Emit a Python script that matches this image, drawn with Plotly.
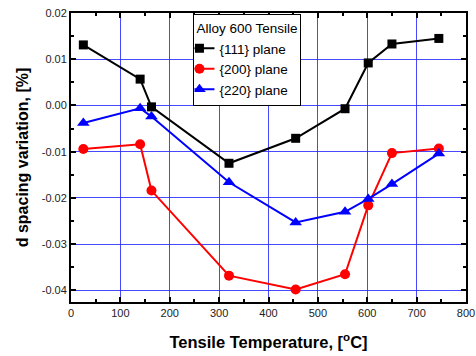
import plotly.graph_objects as go

temps = [25, 140, 163, 320, 455, 555, 602, 650, 745]
plane_111 = [0.0131, 0.0057, -0.0003, -0.0125, -0.0071, -0.0007, 0.0092, 0.0133, 0.0145]
plane_200 = [-0.0094, -0.0084, -0.0184, -0.0368, -0.0398, -0.0365, -0.0216, -0.0103, -0.0093]
plane_220 = [-0.0038, -0.0006, -0.0024, -0.0166, -0.0253, -0.0230, -0.0202, -0.0170, -0.0104]

x_ticks = [0, 100, 200, 300, 400, 500, 600, 700, 800]
y_ticks = [0.02, 0.01, 0.0, -0.01, -0.02, -0.03, -0.04]
y_ticktext = ["0.02", "0.01", "0.00", "-0.01", "-0.02", "-0.03", "-0.04"]

series = [
    ("{111} plane", plane_111, "black", "square", 9),
    ("{200} plane", plane_200, "red", "circle", 10),
    ("{220} plane", plane_220, "blue", "triangle-up", 11),
]

FONT = "Arial, Liberation Sans, sans-serif"

fig = go.Figure()
for name, vals, color, sym, sz in series:
    fig.add_trace(go.Scatter(
        x=temps, y=vals, name=name, mode="lines+markers",
        line=dict(color=color, width=2),
        marker=dict(symbol=sym, size=sz, color=color),
    ))

axis_common = dict(
    showline=True, linecolor="black", linewidth=2, mirror="ticks",
    ticks="inside", ticklen=5, tickwidth=2, tickcolor="black",
    showgrid=True, gridcolor="rgba(40,40,255,0.85)", gridwidth=1,
    zeroline=False, automargin=False,
    tickfont=dict(family=FONT, size=11, color="#222"),
)

fig.update_xaxes(
    range=[0, 800], tickvals=x_ticks,
    minor=dict(ticks="inside", ticklen=3, tickwidth=2, tickcolor="black", dtick=50, showgrid=False),
    title=dict(text="<b>Tensile Temperature, [<sup>o</sup>C]</b>",
               font=dict(family=FONT, size=16.5, color="black"),
               standoff=18),
    **axis_common,
)
fig.update_yaxes(
    range=[-0.0425, 0.02], tickvals=y_ticks, ticktext=y_ticktext,
    minor=dict(ticks="inside", ticklen=3, tickwidth=2, tickcolor="black", dtick=0.005, showgrid=False),
    title=dict(text="<b>d spacing variation, [%]</b>",
               font=dict(family=FONT, size=16, color="black"),
               standoff=9),
    **axis_common,
)

fig.update_layout(
    width=476, height=356,
    margin=dict(l=71, r=10, t=13, b=54),
    paper_bgcolor="white", plot_bgcolor="white",
    font=dict(family=FONT, color="black"),
    legend=dict(
        x=0.31, y=0.995, xanchor="left", yanchor="top",
        bgcolor="white", bordercolor="black", borderwidth=1,
        title=dict(text="Alloy 600 Tensile", font=dict(family=FONT, size=13.5)),
        font=dict(family=FONT, size=13.5), tracegroupgap=0, itemwidth=30,
        indentation=-15,
    ),
)

fig.write_html("out.html", config={"displayModeBar": False},
               post_script="document.body.style.margin='0';")
